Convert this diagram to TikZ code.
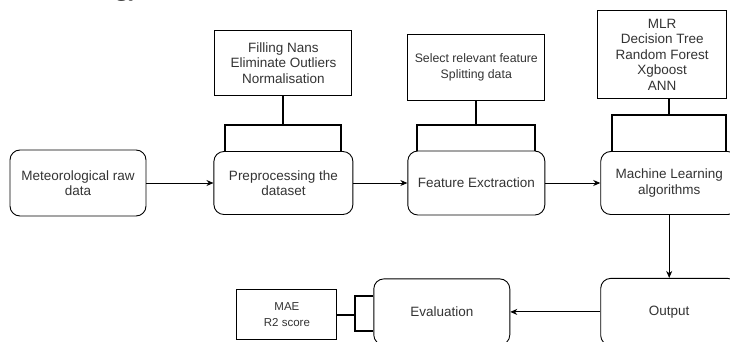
\documentclass[tikz,border=0pt]{standalone}
\usepackage{fontspec}
\setmainfont{Liberation Sans}
\newfontfamily\headfont{Liberation Serif}
\usepackage{xcolor}
\usetikzlibrary{arrows.meta,positioning}
\definecolor{txtgray}{HTML}{333333}

\begin{document}
\begin{tikzpicture}[
  x=1pt, y=1pt,
  node distance=55pt,
  stage/.style={draw, line width=0.9pt, rounded corners=10pt, align=center, text=txtgray, minimum width=137pt, minimum height=64pt, inner sep=2pt, font=\fontsize{13.5}{15.5}\selectfont},
  info/.style={draw, line width=0.9pt, align=center, text=txtgray, minimum width=137pt, minimum height=65pt, inner sep=2pt, font=\fontsize{13.5}{15.5}\selectfont},
  link/.style={line width=0.9pt, -{Stealth[length=7pt,width=6pt]}},
  brace/.style={line width=2pt}
]
\clip (0,0) rectangle (730,341);
\node[anchor=base east, font=\headfont\bfseries\fontsize{26}{30}\selectfont] (head) at (145,345.5) {Methodology};

\node[stage, minimum width=136pt, minimum height=66pt] (raw) at (78,158) {Meteorological raw\\data};
\node[stage, minimum width=139pt, minimum height=63pt, right=67pt of raw] (pre) {Preprocessing the\\dataset};
\node[stage, right=54pt of pre] (feat) {Feature Exctraction};
\node[stage, minimum height=63pt, right=55pt of feat] (ml) {Machine Learning\\algorithms};
\node[stage, minimum height=67pt, below=63pt of ml] (out) {Output};
\node[stage, minimum width=136pt, minimum height=66pt, left=90pt of out] (eval) {Evaluation};

\node[info, above=55pt of pre] (fill) {Filling Nans\\Eliminate Outliers\\Normalisation};
\node[info, minimum height=66pt, above=50pt of feat, font=\fontsize{12.3}{15.5}\selectfont] (sel) {Select relevant feature\\Splitting data};
\node[info, minimum width=129pt, minimum height=88pt, above=52pt of ml, xshift=-7pt] (mlr) {MLR\\Decision Tree\\Random Forest\\Xgboost\\ANN};
\node[info, minimum width=100pt, minimum height=50pt, left=36pt of eval, yshift=-3pt, font=\fontsize{11.5}{16}\selectfont] (mae) {MAE\\R2 score};

\draw[link] (raw) -- (pre);
\draw[link] (pre) -- (feat);
\draw[link] (feat) -- (ml);
\draw[link] (ml) -- (out);
\draw[link] (out) -- (eval);

% brackets
\draw[brace] (fill.south) -- ++(0,-29) coordinate (fillj);
\draw[brace] ([xshift=12pt]pre.north west) |- (fillj) -| ([xshift=-12pt]pre.north east);
\draw[brace] (sel.south) -- ++(0,-24) coordinate (selj);
\draw[brace] ([xshift=10pt]feat.north west) |- (selj) -| ([xshift=-10pt]feat.north east);
\draw[brace] (mlr.south -| ml.north) -- ++(0,-16) coordinate (mlrj);
\draw[brace] ([xshift=12pt]ml.north west) |- (mlrj) -| ([xshift=-12pt]ml.north east);
\draw[brace] (mae.east) -- ++(18,0) coordinate (maej);
\draw[brace] ([yshift=-18pt]eval.north west) -| (maej) |- ([yshift=-53pt]eval.north west);
\end{tikzpicture}
\end{document}
